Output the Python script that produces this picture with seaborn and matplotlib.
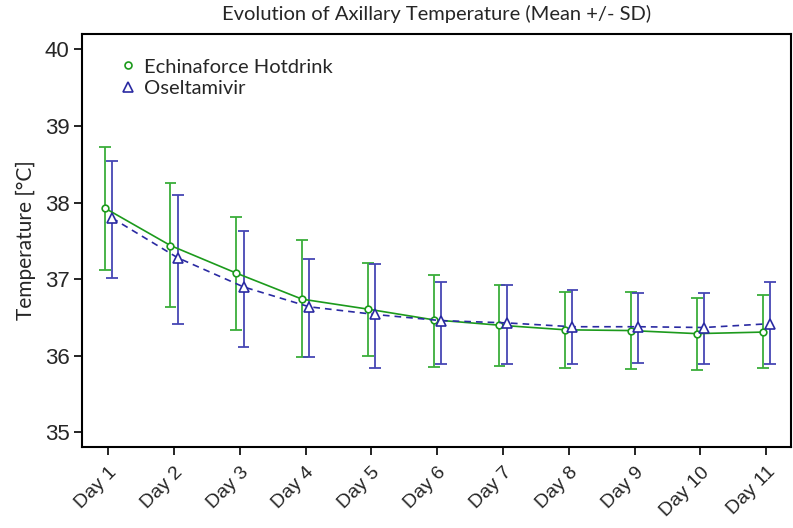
import matplotlib
matplotlib.use("Agg")
import matplotlib.pyplot as plt
from matplotlib.lines import Line2D
import numpy as np
import pandas as pd
import seaborn as sns

# ---- data ----
days = ["Day 1", "Day 2", "Day 3", "Day 4", "Day 5", "Day 6",
        "Day 7", "Day 8", "Day 9", "Day 10", "Day 11"]
echina_mean = [37.93, 37.44, 37.08, 36.74, 36.61, 36.47, 36.40, 36.34, 36.33, 36.29, 36.31]
echina_upper = [38.73, 38.25, 37.81, 37.51, 37.21, 37.06, 36.92, 36.83, 36.83, 36.75, 36.79]
echina_lower = [37.12, 36.64, 36.34, 35.98, 36.00, 35.86, 35.87, 35.84, 35.83, 35.82, 35.84]
osel_mean = [37.80, 37.28, 36.90, 36.64, 36.54, 36.46, 36.43, 36.38, 36.38, 36.37, 36.42]
osel_upper = [38.54, 38.10, 37.63, 37.27, 37.20, 36.97, 36.92, 36.86, 36.82, 36.82, 36.97]
osel_lower = [37.02, 36.41, 36.11, 35.98, 35.84, 35.90, 35.90, 35.89, 35.91, 35.89, 35.89]
yticks = [35, 36, 37, 38, 39, 40]

series_names = ["Echinaforce Hotdrink", "Oseltamivir"]

# ---- styling ----
GREEN = "#1c9a1c"
GREEN_BAR = "#3aae3a"
BLUE = "#2a2aa2"
BLUE_BAR = "#4646b4"
DODGE = 0.055

sns.set_style("white")
TITLE_FONT = ["Lato", "DejaVu Sans"]
TICK_FONT = ["Liberation Sans Narrow", "Liberation Sans", "DejaVu Sans"]

fig = plt.figure(figsize=(7.93, 5.28), dpi=100)
ax = fig.add_axes([0.1034, 0.1534, 0.894, 0.782])

x = np.arange(len(days))
df = pd.DataFrame({
    "x": np.concatenate([x - DODGE, x + DODGE]),
    "temp": echina_mean + osel_mean,
    "group": [series_names[0]] * len(days) + [series_names[1]] * len(days),
})

# error bars
for offs, lo, hi, col in [(-DODGE, echina_lower, echina_upper, GREEN_BAR),
                          (DODGE, osel_lower, osel_upper, BLUE_BAR)]:
    xs = x + offs
    ax.vlines(xs, lo, hi, color=col, lw=1.3, zorder=2)
    ax.hlines(lo, xs - 0.09, xs + 0.09, color=col, lw=1.3, zorder=2)
    ax.hlines(hi, xs - 0.09, xs + 0.09, color=col, lw=1.3, zorder=2)

sns.lineplot(data=df[df.group == series_names[0]], x="x", y="temp", ax=ax,
             color=GREEN, lw=1.2, marker="o", markersize=4.8,
             markerfacecolor="white", markeredgecolor=GREEN, markeredgewidth=1.2,
             zorder=3, legend=False)
sns.lineplot(data=df[df.group == series_names[1]], x="x", y="temp", ax=ax,
             color=BLUE, lw=1.2, linestyle=(0, (4, 3)), marker="^", markersize=7.5,
             markerfacecolor="white", markeredgecolor=BLUE, markeredgewidth=1.2,
             zorder=3, legend=False)

ax.set_xlim(-0.40, 10.375)
ax.set_ylim(34.81, 40.2)
ax.set_xticks(x)
ax.set_xticklabels(days, rotation=45, ha="right", rotation_mode="anchor",
                   family=TICK_FONT, fontsize=14)
ax.set_yticks(yticks)
ax.set_yticklabels([str(v) for v in yticks], family=TICK_FONT, fontsize=16)
ax.tick_params(axis="both", direction="out", length=6, width=1.2, color="black",
               left=True, bottom=True, pad=3)
ax.tick_params(axis="x", pad=6)
for s in ax.spines.values():
    s.set_visible(True)
    s.set_color("black")
    s.set_linewidth(1.5)

ax.set_xlabel("")
ax.set_ylabel("Temperature [°C]", family=TITLE_FONT, fontsize=15, labelpad=6)
ax.set_title("Evolution of Axillary Temperature (Mean +/- SD)",
             family=TITLE_FONT, fontsize=14.5, pad=10)

handles = [
    Line2D([], [], ls="none", marker="o", markersize=5, markerfacecolor="white",
           markeredgecolor=GREEN, markeredgewidth=1.2),
    Line2D([], [], ls="none", marker="^", markersize=7, markerfacecolor="white",
           markeredgecolor=BLUE, markeredgewidth=1.2),
]
leg = ax.legend(handles, series_names, loc="upper left", bbox_to_anchor=(0.03, 0.985),
                frameon=False, handlelength=0.7, handletextpad=0.4, labelspacing=0.2,
                prop={"family": TITLE_FONT, "size": 14.5})

fig.savefig("out.png", dpi=100)
